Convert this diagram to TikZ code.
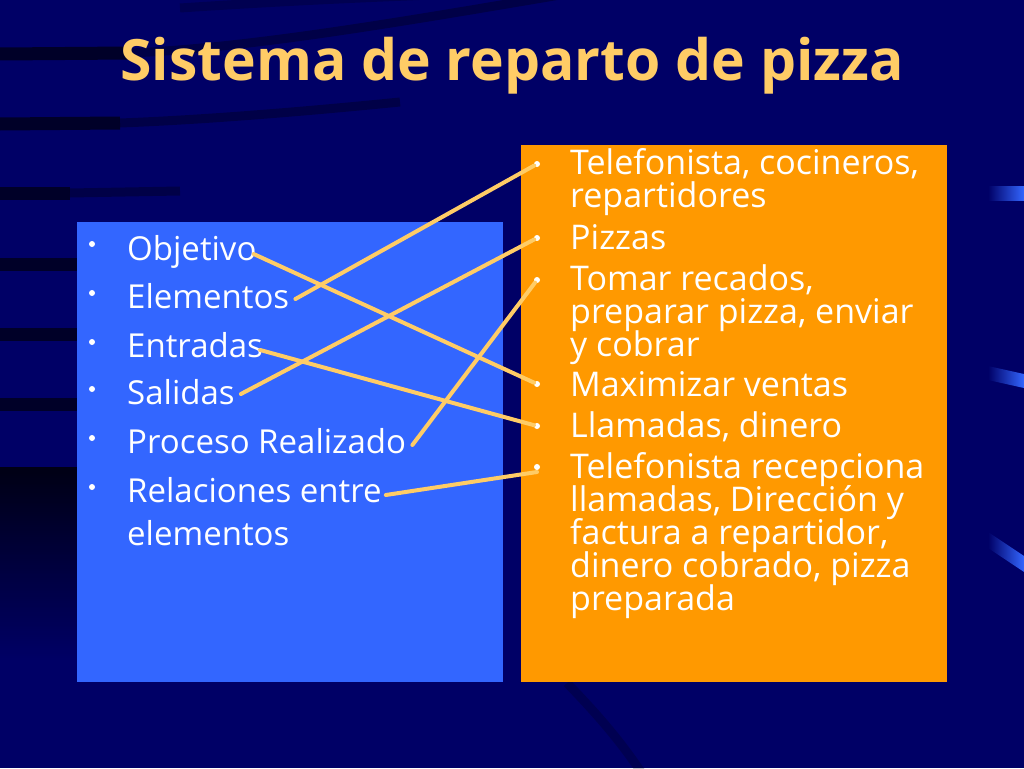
\documentclass[tikz,border=0pt]{standalone}
\usepackage{fontspec}
\setmainfont{Open Sans}
\definecolor{fondo}{RGB}{0,0,102}
\definecolor{azul}{RGB}{51,102,255}
\definecolor{naranja}{RGB}{255,153,0}
\definecolor{crema}{RGB}{255,204,102}
\tikzset{
  bola/.style={circle, fill=white, minimum size=6pt, inner sep=0pt},
  izq/.style={anchor=base west, inner sep=0pt, text=white, font=\fontsize{33}{42}\selectfont},
  der/.style={anchor=base west, inner sep=0pt, text=white, font=\fontsize{34}{33}\selectfont},
  enlace/.style={crema, line width=4pt, line cap=round},
  franja/.style={black, opacity=0.6, line width=13pt},
  estela/.style={black, opacity=0.3, line width=9pt}
}
\newcommand{\lineas}[1]{\vtop{\lineskiplimit=-100pt\baselineskip=33pt\halign{##\hfil\cr#1\crcr}}}
\begin{document}
\begin{tikzpicture}[x=1pt, y=-1pt]
\useasboundingbox (0,0) rectangle (1024,768);
\fill[fondo] (0,0) rectangle (1024,768);
% franjas oscuras del fondo
\draw[franja] (0,54) -- (130,53);
\draw[estela] (130,53) .. controls (250,48) and (400,22) .. (560,-5);
\draw[estela, opacity=0.2] (180,8) .. controls (300,0) and (420,-5) .. (520,-8);
\draw[franja] (0,124) -- (120,123);
\draw[estela] (120,123) .. controls (200,120) and (300,112) .. (400,102);
\draw[franja] (0,193) -- (70,193);
\draw[estela] (70,193) -- (180,191);
\draw[franja] (0,264) -- (80,264);
\draw[franja] (0,334) -- (80,334);
\draw[franja] (0,404) -- (80,404);
\shade[top color=black, bottom color=fondo, opacity=0.8] (0,467) rectangle (80,660);
\draw[estela, opacity=0.2] (567,683) .. controls (595,712) and (620,740) .. (643,775);
% barras de la derecha
\shade[left color=fondo, right color=azul] (988,186) rectangle (1024,200);
\shade[left color=fondo, right color=azul] (988,366) -- (1024,374) -- (1024,388) -- (988,380) -- cycle;
\shade[left color=fondo, right color=azul] (988,532) -- (1024,556) -- (1024,572) -- (988,548) -- cycle;
% titulo
\node[text=crema, font=\fontsize{57}{62}\bfseries\selectfont] (TIT) at (512,66) {Sistema de reparto de pizza};
% cajas
\fill[azul] (77,222) rectangle (503,682);
\fill[naranja] (521,145) rectangle (947,682);
% lista izquierda
\node[bola] (LB1) at (92,244) {};
\node[bola] (LB2) at (92,293) {};
\node[bola] (LB3) at (92,342) {};
\node[bola] (LB4) at (92,389) {};
\node[bola] (LB5) at (92,438) {};
\node[bola] (LB6) at (92,487) {};
\node[izq] (LN1) at (127,260) {Objetivo};
\node[izq] (LN2) at (127,308) {Elementos};
\node[izq] (LN3) at (127,357) {Entradas};
\node[izq] (LN4) at (127,404) {Salidas};
\node[izq] (LN5) at (127,453) {Proceso Realizado};
\node[izq] (LN6) at (127,502) {Relaciones entre};
\node[izq] (LN7) at (127,545) {elementos};
% lista derecha
\node[bola] (RB1) at (537,164) {};
\node[bola] (RB2) at (537,238) {};
\node[bola] (RB3) at (537,280) {};
\node[bola] (RB4) at (537,384) {};
\node[bola] (RB5) at (537,426) {};
\node[bola] (RB6) at (537,467) {};
\node[der] (RN1) at (570,174) {\lineas{Telefonista, cocineros,\cr repartidores}};
\node[der] (RN2) at (570,249) {Pizzas};
\node[der] (RN3) at (570,290) {\lineas{Tomar recados,\cr preparar pizza, enviar\cr y cobrar}};
\node[der] (RN4) at (570,396) {Maximizar ventas};
\node[der] (RN5) at (570,437) {Llamadas, dinero};
\node[der] (RN6) at (570,478) {\lineas{Telefonista recepciona\cr llamadas, Dirección y\cr factura a repartidor,\cr dinero cobrado, pizza\cr preparada}};
% enlaces
\draw[enlace] ([xshift=-3pt,yshift=6pt]LN1.base east) -- (RB4);
\draw[enlace] ([xshift=6pt,yshift=9pt]LN2.base east) -- (RB1);
\draw[enlace] ([xshift=-3pt,yshift=7pt]LN3.base east) -- (RB5);
\draw[enlace] ([xshift=6pt,yshift=10pt]LN4.base east) -- (RB2);
\draw[enlace] ([xshift=6pt,yshift=8pt]LN5.base east) -- (RB3);
\draw[enlace] ([xshift=4pt,yshift=7pt]LN6.base east) -- ([yshift=-5pt]RB6.center);
\end{tikzpicture}
\end{document}
